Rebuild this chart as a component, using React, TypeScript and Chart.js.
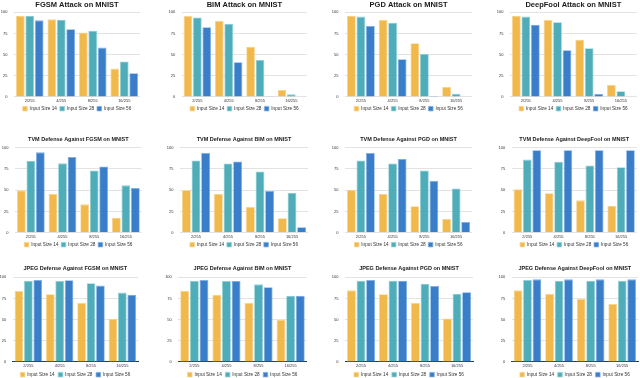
import React, { useEffect, useRef } from "react";
import { Chart, registerables } from "chart.js";
Chart.register(...registerables);

const categories = ["2/255", "4/255", "8/255", "16/255"];
const seriesLabels = ["Input Size 14", "Input Size 28", "Input Size 56"];
const yTickValues = [0, 25, 50, 75, 100];

// each panel: [Input Size 14], [Input Size 28], [Input Size 56]
const fgsmAttack = [[96, 91.7, 76, 33.5], [96, 91.3, 78.3, 42], [90.5, 80, 58.3, 28]];
const bimAttack = [[95.7, 89.8, 59.4, 8.3], [94, 86.6, 43.7, 3.1], [82.3, 41, 0.8, 0]];
const pgdAttack = [[96, 90.9, 63.4, 11.8], [94.9, 87.8, 50.8, 3.9], [83.9, 44.5, 1.2, 0]];
const deepfoolAttack = [[96, 91, 67.7, 14.2], [94.9, 88.2, 57.5, 6.7], [85.4, 55.1, 3.5, 0]];
const tvmFgsm = [[49.8, 45.5, 33.3, 17.6], [84.7, 81.6, 73.3, 55.7], [94.5, 89, 78, 52.5]];
const tvmBim = [[50, 45.5, 30.4, 17], [85, 81.4, 71.9, 47], [93.7, 83.8, 49, 6.3]];
const tvmPgd = [[50.2, 45.5, 31, 16], [85, 81.5, 73.3, 52], [93.7, 86.6, 61, 12.5]];
const tvmDeepfool = [[51, 46.3, 38, 31.7], [86, 83.5, 79, 77], [97, 97, 97, 97]];
const jpegFgsm = [[83.9, 80, 69.7, 50.8], [96, 95.7, 92.9, 81.9], [96.9, 96.5, 90.2, 79.5]];
const jpegBim = [[83.9, 79.5, 69.7, 50], [96, 95.7, 91.7, 78.3], [96.9, 95.7, 88.2, 78.3]];
const jpegPgd = [[84.6, 80, 69.7, 51.2], [96, 96, 92.5, 80.7], [96.9, 96, 89.8, 82.3]];
const jpegDeepfool = [[84.6, 80.3, 74.4, 68.5], [96.9, 96, 96, 96], [97.6, 97.6, 97.6, 97.6]];

const panelTitles = [
  "FGSM Attack on MNIST",
  "BIM Attack on MNIST",
  "PGD Attack on MNIST",
  "DeepFool Attack on MNIST",
  "TVM Defense Against FGSM on MNIST",
  "TVM Defense Against BIM on MNIST",
  "TVM Defense Against PGD on MNIST",
  "TVM Defense Against DeepFool on MNIST",
  "JPEG Defense Against FGSM on MNIST",
  "JPEG Defense Against BIM on MNIST",
  "JPEG Defense Against PGD on MNIST",
  "JPEG Defense Against DeepFool on MNIST",
];
const panelData = [
  fgsmAttack, bimAttack, pgdAttack, deepfoolAttack,
  tvmFgsm, tvmBim, tvmPgd, tvmDeepfool,
  jpegFgsm, jpegBim, jpegPgd, jpegDeepfool,
];

// ---- styling / layout (not data) ----
const FONT = "'Liberation Sans', Arial, Helvetica, sans-serif";
const fillColors = ["#F1B84C", "#4EADB9", "#3A7DC9"];
const edgeColors = ["#F8D48C", "#8ED0D8", "#7FAEE2"];
const Y_AXIS_W = 14;
const TICK_SIZE = 4;

const rowLayout = [
  { top: 0, height: 121, padTop: 0, titleSize: 7.5, titlePadBottom: 3.3, xPad: 1.6, legendPad: 2.95, baseline: false },
  { top: 126, height: 131, padTop: 10.5, titleSize: 5.5, titlePadBottom: 4.6, xPad: 2.1, legendPad: 2.75, baseline: false },
  { top: 252, height: 135, padTop: 13.4, titleSize: 5.5, titlePadBottom: 5.3, xPad: 1.9, legendPad: 3.65, baseline: true },
];
// plot-area left / right inside each 160px column
const plotLeft = [14, 21.7, 25, 30, 15, 20, 25, 31.7, 12.7, 18.3, 25, 31.7];
const plotRight = [140, 147, 152, 156.7, 141.7, 148, 152, 156.7, 138, 146.7, 153, 158];

function Panel({ index }: { index: number }) {
  const ref = useRef<HTMLCanvasElement>(null);
  const row = Math.floor(index / 4);
  const col = index % 4;
  const L = rowLayout[row];
  useEffect(() => {
    const data = panelData[index];
    const chart = new Chart(ref.current!, {
      type: "bar",
      data: {
        labels: categories,
        datasets: seriesLabels.map((label, i) => ({
          label,
          data: data[i],
          backgroundColor: fillColors[i],
          borderColor: edgeColors[i],
          borderWidth: 0.8,
          categoryPercentage: 0.9,
          barPercentage: 0.92,
        })),
      },
      options: {
        animation: false,
        responsive: false,
        devicePixelRatio: 1,
        layout: {
          padding: {
            left: plotLeft[index] - Y_AXIS_W,
            right: 160 - plotRight[index],
            top: L.padTop,
            bottom: 0,
          },
        },
        plugins: {
          title: {
            display: true,
            text: panelTitles[index],
            fullSize: false,
            color: "#1a1a1a",
            font: { family: FONT, size: L.titleSize, weight: "bold", lineHeight: 1.2 },
            padding: { top: 0, bottom: L.titlePadBottom },
          },
          legend: {
            display: true,
            position: "bottom",
            fullSize: false,
            labels: {
              boxWidth: 4.5,
              boxHeight: 4.5,
              padding: L.legendPad,
              color: "#333",
              font: { family: FONT, size: 4.7 },
            },
          },
          tooltip: { enabled: false },
        },
        scales: {
          x: {
            afterFit: (s: any) => {
              s.height = L.xPad + TICK_SIZE * 1.2;
            },
            grid: { display: false, drawTicks: false },
            border: { display: L.baseline, color: "#1e3a5f", width: 1 },
            ticks: {
              color: "#333",
              padding: L.xPad,
              maxRotation: 0,
              autoSkip: false,
              font: { family: FONT, size: TICK_SIZE, lineHeight: 1.2 },
            },
          },
          y: {
            min: 0,
            max: 100,
            afterFit: (s: any) => {
              s.width = Y_AXIS_W;
            },
            afterBuildTicks: (s: any) => {
              s.ticks = yTickValues.map((v) => ({ value: v }));
            },
            grid: { color: "#e3e3e3", lineWidth: 1, drawTicks: false },
            border: { display: false },
            ticks: {
              color: "#333",
              padding: 6.5,
              font: { family: FONT, size: TICK_SIZE },
            },
          },
        },
      },
    });
    return () => chart.destroy();
  }, [index]);
  return (
    <canvas
      ref={ref}
      width={160}
      height={L.height}
      style={{ position: "absolute", left: col * 160, top: L.top, width: 160, height: L.height }}
    />
  );
}

export default function App() {
  return (
    <div
      style={{
        position: "absolute",
        left: 0,
        top: 0,
        width: 640,
        height: 378,
        overflow: "hidden",
        background: "#fff",
      }}
    >
      {panelTitles.map((_, i) => (
        <Panel key={i} index={i} />
      ))}
    </div>
  );
}
